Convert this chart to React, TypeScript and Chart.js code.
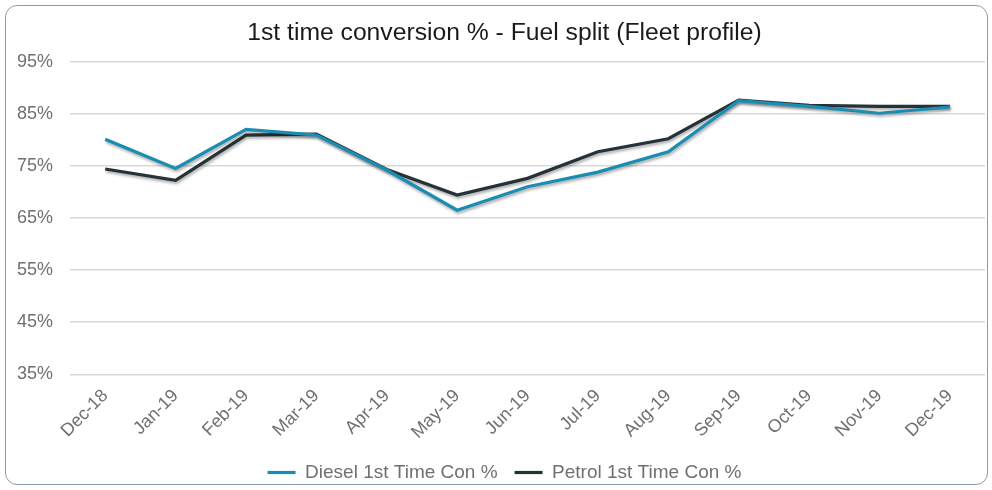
import React, { useEffect, useRef } from "react";
import { Chart, registerables } from "chart.js";

Chart.register(...registerables);

const months = ["Dec-18", "Jan-19", "Feb-19", "Mar-19", "Apr-19", "May-19", "Jun-19", "Jul-19", "Aug-19", "Sep-19", "Oct-19", "Nov-19", "Dec-19"];
const diesel = [80.1, 74.5, 82.0, 80.9, 74.2, 66.5, 71.0, 73.8, 77.7, 87.5, 86.4, 85.1, 86.3];
const petrol = [74.4, 72.2, 80.9, 81.1, 74.3, 69.4, 72.6, 77.7, 80.2, 87.6, 86.6, 86.4, 86.4];
const title = "1st time conversion % - Fuel split (Fleet profile)";

const shadowPlugin = {
  id: "lineShadow",
  afterLayout(chart: any) {
    const shift = 12;
    for (const box of [chart.titleBlock, chart.legend]) {
      if (box) {
        box.left += shift;
        box.right += shift;
      }
    }
  },
  beforeDatasetDraw(chart: any) {
    const ctx = chart.ctx;
    ctx.save();
    ctx.shadowColor = "rgba(0,0,0,0.35)";
    ctx.shadowBlur = 3;
    ctx.shadowOffsetX = 1;
    ctx.shadowOffsetY = 2;
  },
  afterDatasetDraw(chart: any) {
    chart.ctx.restore();
  },
};

export default function App() {
  const ref = useRef<HTMLCanvasElement | null>(null);
  useEffect(() => {
    document.body.style.margin = "0";
    const font = "'Liberation Sans', Arial, sans-serif";
    const chart = new Chart(ref.current!, {
      type: "line",
      data: {
        labels: months,
        datasets: [
          { label: "Diesel 1st Time Con %", data: diesel, borderColor: "#1b8db3", backgroundColor: "#1b8db3", borderWidth: 3.2, pointRadius: 0, tension: 0 },
          { label: "Petrol 1st Time Con %", data: petrol, borderColor: "#263238", backgroundColor: "#263238", borderWidth: 3.2, pointRadius: 0, tension: 0 },
        ],
      },
      plugins: [shadowPlugin],
      options: {
        animation: false,
        responsive: false,
        layout: { padding: { left: 0, right: 7, top: 4, bottom: -2 } },
        plugins: {
          title: { display: true, text: title, color: "#1a1a1a", font: { family: font, size: 24.7, weight: "normal" }, padding: { top: 14, bottom: 14 } },
          legend: {
            position: "bottom",
            labels: {
              color: "#707070",
              font: { family: font, size: 19 },
              usePointStyle: true,
              pointStyle: "line",
              pointStyleWidth: 28,
              boxWidth: 28,
              padding: 17,
            },
          },
          tooltip: { enabled: false },
        },
        scales: {
          x: {
            offset: true,
            grid: { display: false },
            border: { display: false },
            ticks: { color: "#707070", font: { family: font, size: 18 }, maxRotation: 45, minRotation: 45, padding: 3 },
          },
          y: {
            min: 35,
            max: 95,
            grid: { color: "#d9d9d9", lineWidth: 1.5, drawTicks: false },
            border: { display: false },
            ticks: { stepSize: 10, color: "#707070", font: { family: font, size: 18 }, padding: 17, callback: (v: any) => v + "%" },
          },
        },
      },
    });
    return () => chart.destroy();
  }, []);
  return (
    <div style={{ position: "relative", width: 992, height: 490, background: "#fff" }}>
      <div style={{ position: "absolute", left: 5, top: 5, width: 983, height: 480, border: "1.5px solid #8c9bb0", borderRadius: 12, boxSizing: "border-box" }} />
      <canvas ref={ref} width={992} height={490} style={{ position: "absolute", left: 0, top: 0 }} />
    </div>
  );
}
